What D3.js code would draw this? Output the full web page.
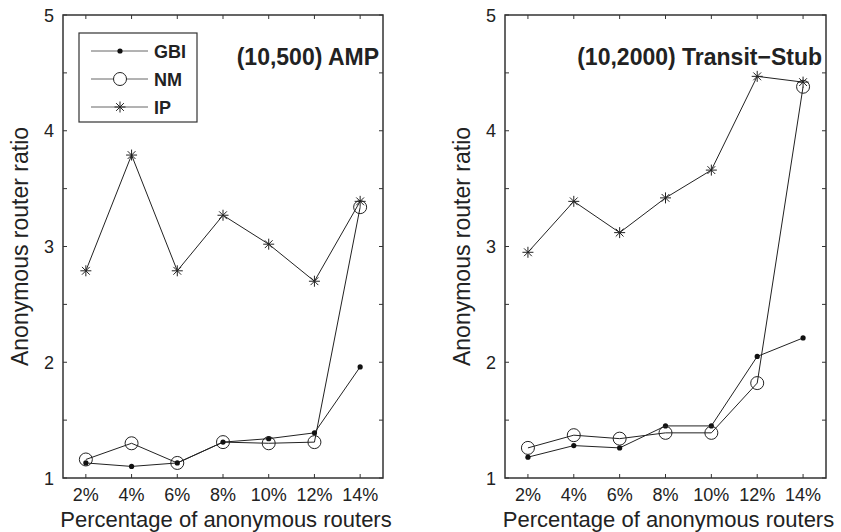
<!DOCTYPE html>
<html>
<head>
<meta charset="utf-8">
<script src="https://cdn.jsdelivr.net/npm/d3@7"></script>
<style>
  body { margin: 0; background: #fff; }
  text { font-family: "Liberation Sans", Arial, sans-serif; fill: #222; }
</style>
</head>
<body>
<svg id="chart" width="841" height="532"></svg>
<script>
var categories = ["2%", "4%", "6%", "8%", "10%", "12%", "14%"];
var yTicks = [1, 1.5, 2, 2.5, 3, 3.5, 4, 4.5, 5];

// (10,500) AMP
var ampGBI = [1.13, 1.10, 1.13, 1.31, 1.34, 1.39, 1.96];
var ampNM  = [1.16, 1.30, 1.13, 1.31, 1.30, 1.31, 3.34];
var ampIP  = [2.79, 3.79, 2.79, 3.27, 3.02, 2.70, 3.39];

// (10,2000) Transit-Stub
var tsGBI = [1.18, 1.28, 1.26, 1.45, 1.45, 2.05, 2.21];
var tsNM  = [1.26, 1.37, 1.34, 1.39, 1.39, 1.82, 4.38];
var tsIP  = [2.95, 3.39, 3.12, 3.42, 3.66, 4.47, 4.42];

var svg = d3.select("#chart");

function drawPanel(left, right, top, bottom, title, gbi, nm, ip, showLegend) {
  var x = d3.scaleLinear().domain([-0.5, 6.5]).range([left, right]);
  var y = d3.scaleLinear().domain([1, 5]).range([bottom, top]);
  var g = svg.append("g");

  // inward ticks on all four sides
  var tl = 4;
  categories.forEach(function (c, i) {
    g.append("line").attr("x1", x(i)).attr("x2", x(i)).attr("y1", bottom).attr("y2", bottom - tl)
      .attr("stroke", "#333").attr("stroke-width", 1);
    g.append("line").attr("x1", x(i)).attr("x2", x(i)).attr("y1", top).attr("y2", top + tl)
      .attr("stroke", "#333").attr("stroke-width", 1);
    g.append("text").attr("x", x(i)).attr("y", bottom + 23)
      .attr("text-anchor", "middle").style("font-size", "18px").text(c);
  });
  yTicks.forEach(function (t) {
    g.append("line").attr("x1", left).attr("x2", left + tl).attr("y1", y(t)).attr("y2", y(t))
      .attr("stroke", "#333").attr("stroke-width", 1);
    g.append("line").attr("x1", right).attr("x2", right - tl).attr("y1", y(t)).attr("y2", y(t))
      .attr("stroke", "#333").attr("stroke-width", 1);
    if (t % 1 === 0) {
      g.append("text").attr("x", left - 9).attr("y", y(t) + 6.5)
        .attr("text-anchor", "end").style("font-size", "18px").text(t);
    }
  });

  g.append("rect").attr("x", left).attr("y", top)
    .attr("width", right - left).attr("height", bottom - top)
    .attr("fill", "none").attr("stroke", "#333").attr("stroke-width", 1.5);

  g.append("text").attr("x", (left + right) / 2 + 3).attr("y", bottom + 49)
    .attr("text-anchor", "middle").style("font-size", "22px")
    .text("Percentage of anonymous routers");
  g.append("text")
    .attr("transform", "translate(" + (left - 35) + "," + ((top + bottom) / 2) + ") rotate(-90)")
    .attr("text-anchor", "middle").style("font-size", "23px")
    .text("Anonymous router ratio");

  g.append("text").attr("x", right - 4).attr("y", top + 50)
    .attr("text-anchor", "end").style("font-size", "23px").style("font-weight", "bold")
    .text(title);

  var line = d3.line().x(function (d, i) { return x(i); }).y(function (d) { return y(d); });
  [gbi, nm, ip].forEach(function (s) {
    g.append("path").datum(s).attr("d", line)
      .attr("fill", "none").attr("stroke", "#222").attr("stroke-width", 1);
  });

  function star(gg, cx, cy, r) {
    for (var k = 0; k < 4; k++) {
      var a = k * Math.PI / 4;
      gg.append("line")
        .attr("x1", cx - r * Math.cos(a)).attr("y1", cy - r * Math.sin(a))
        .attr("x2", cx + r * Math.cos(a)).attr("y2", cy + r * Math.sin(a))
        .attr("stroke", "#222").attr("stroke-width", 1);
    }
  }

  g.selectAll(null).data(gbi).enter().append("circle")
    .attr("cx", function (d, i) { return x(i); }).attr("cy", function (d) { return y(d); })
    .attr("r", 2.6).attr("fill", "#111");
  g.selectAll(null).data(nm).enter().append("circle")
    .attr("cx", function (d, i) { return x(i); }).attr("cy", function (d) { return y(d); })
    .attr("r", 6.5).attr("fill", "none").attr("stroke", "#222").attr("stroke-width", 1);
  ip.forEach(function (d, i) { star(g, x(i), y(d), 5.5); });

  if (showLegend) {
    var lg = g.append("g");
    lg.append("rect").attr("x", 79).attr("y", 33).attr("width", 118).attr("height", 89)
      .attr("fill", "#fff").attr("stroke", "#333").attr("stroke-width", 1.2);
    var names = ["GBI", "NM", "IP"];
    names.forEach(function (n, k) {
      var ly = 51 + k * 28;
      lg.append("line").attr("x1", 91).attr("x2", 148).attr("y1", ly).attr("y2", ly)
        .attr("stroke", "#666").attr("stroke-width", 1);
      if (k === 0) lg.append("circle").attr("cx", 120).attr("cy", ly).attr("r", 2.6).attr("fill", "#111");
      if (k === 1) lg.append("circle").attr("cx", 120).attr("cy", ly).attr("r", 6.5)
        .attr("fill", "#fff").attr("stroke", "#222").attr("stroke-width", 1);
      if (k === 2) star(lg, 120, ly, 5.5);
      lg.append("text").attr("x", 154).attr("y", ly + 6.5)
        .style("font-size", "18px").style("font-weight", "bold").text(n);
    });
  }
}

drawPanel(63, 383, 15, 478, "(10,500) AMP", ampGBI, ampNM, ampIP, true);
drawPanel(505, 826, 15, 478, "(10,2000) Transit\u2212Stub", tsGBI, tsNM, tsIP, false);
</script>
</body>
</html>
